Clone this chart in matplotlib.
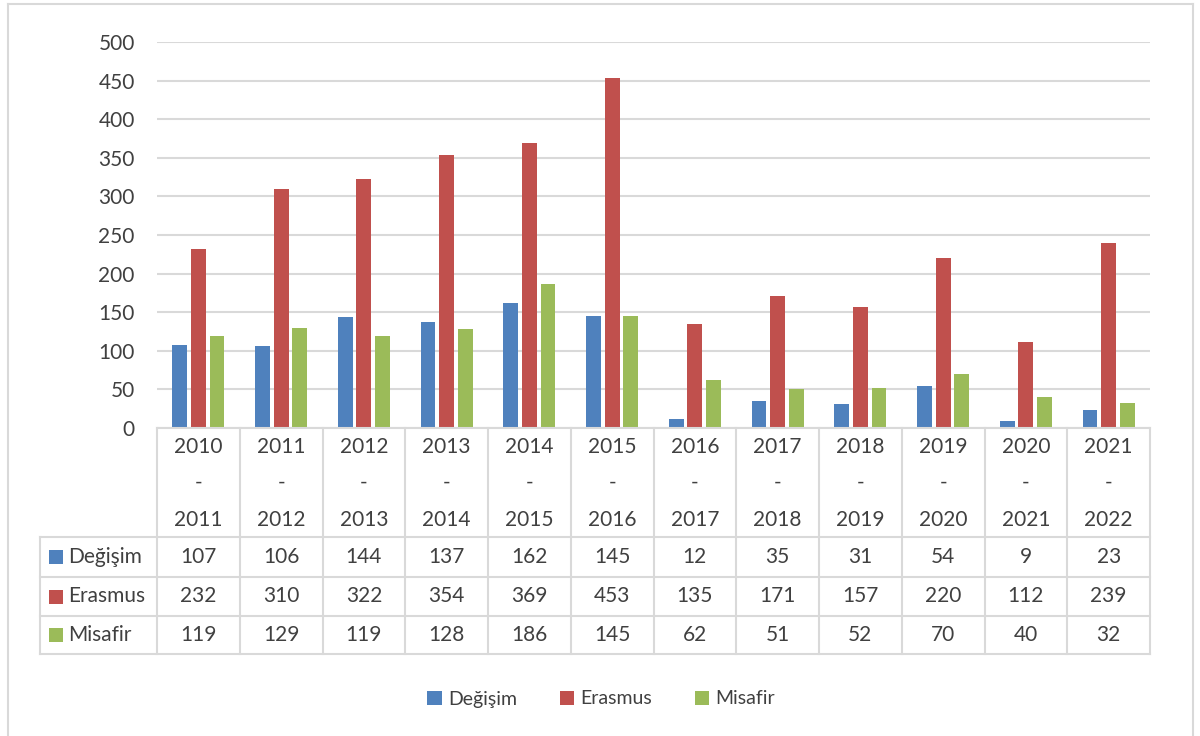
import matplotlib
matplotlib.use('Agg')
from matplotlib import pyplot as plt
from matplotlib import transforms as mtransforms
from matplotlib.lines import Line2D
from matplotlib.patches import Patch, Rectangle
import numpy as np

# veriler
years = ['2010-2011', '2011-2012', '2012-2013', '2013-2014', '2014-2015', '2015-2016',
         '2016-2017', '2017-2018', '2018-2019', '2019-2020', '2020-2021', '2021-2022']
degisim = [107, 106, 144, 137, 162, 145, 12, 35, 31, 54, 9, 23]
erasmus = [232, 310, 322, 354, 369, 453, 135, 171, 157, 220, 112, 239]
misafir = [119, 129, 119, 128, 186, 145, 62, 51, 52, 70, 40, 32]
series_names = ['Değişim', 'Erasmus', 'Misafir']
colors = ['#4F81BD', '#C0504D', '#9BBB59']
y_ticks = list(range(0, 501, 50))

plt.rcParams['font.family'] = ['Lato', 'DejaVu Sans']
txt_color = '#404040'
grid_color = '#D9D9D9'
W, H = 1200, 736


def fx(p):
    return p / W


def fy(p):
    return 1 - p / H


fig = plt.figure(figsize=(12, 7.36), dpi=100)
ax = fig.add_axes([fx(157), fy(428), fx(1150) - fx(157), fy(42) - fy(428)])

x = np.arange(len(years))
offs = [-0.225, 0, 0.225]
for vals, off, c in zip([degisim, erasmus, misafir], offs, colors):
    ax.bar(x + off, vals, width=0.18, color=c, zorder=3)

ax.set_xlim(-0.5, len(years) - 0.5)
ax.set_ylim(0, 500)
ax.set_yticks(y_ticks)
ax.set_xticks([])
ax.tick_params(axis='y', length=0, pad=16, labelsize=15, labelcolor=txt_color)
ax.yaxis.grid(True, color=grid_color, lw=1.5, zorder=0)
for s in ax.spines.values():
    s.set_visible(False)

# tablo
tr = mtransforms.blended_transform_factory(ax.transData, fig.transFigure)
lw = 1.5
rows_y = [537, 577, 616, 654]
for i in range(len(years) + 1):
    fig.add_artist(Line2D([i - 0.5, i - 0.5], [fy(428), fy(654)], transform=tr,
                          color=grid_color, lw=lw))
fig.add_artist(Line2D([-0.5, len(years) - 0.5], [fy(428), fy(428)], transform=tr,
                      color=grid_color, lw=lw, zorder=4))
for ry in rows_y:
    fig.add_artist(Line2D([fx(40), fx(1150)], [fy(ry), fy(ry)],
                          transform=fig.transFigure, color=grid_color, lw=lw))
fig.add_artist(Line2D([fx(40), fx(40)], [fy(537), fy(654)],
                      transform=fig.transFigure, color=grid_color, lw=lw))

for i, lab in enumerate(years):
    a, b = lab.split('-')
    for t, yy in zip([a, '-', b], [447, 483, 520]):
        fig.text(i, fy(yy), t, transform=tr, ha='center', va='center',
                 fontsize=15, color=txt_color)

for r, (name, vals, c) in enumerate(zip(series_names, [degisim, erasmus, misafir], colors)):
    yc = (rows_y[r] + rows_y[r + 1]) / 2
    fig.add_artist(Rectangle((fx(49), fy(yc + 7)), fx(14), 14 / H, transform=fig.transFigure,
                             facecolor=c, edgecolor='none'))
    fig.text(fx(68), fy(yc), name, ha='left', va='center', fontsize=15, color=txt_color)
    for i, v in enumerate(vals):
        fig.text(i, fy(yc), str(v), transform=tr, ha='center', va='center',
                 fontsize=15, color=txt_color)

# lejant
handles = [Patch(facecolor=c, edgecolor='none') for c in colors]
leg = fig.legend(handles, series_names, loc='center', bbox_to_anchor=(fx(601), fy(699)),
                 ncol=3, frameon=False, fontsize=14, handlelength=0.75, handleheight=0.75,
                 handletextpad=0.3, columnspacing=2.2, labelcolor=txt_color)

# dış çerçeve
for xs, ys in [([8, 8], [4, 740]), ([8, 1193], [4, 4]), ([1193, 1193], [4, 740])]:
    fig.add_artist(Line2D([fx(p) for p in xs], [fy(p) for p in ys],
                          transform=fig.transFigure, color=grid_color, lw=1.5))

fig.savefig('out.png', dpi=100)
